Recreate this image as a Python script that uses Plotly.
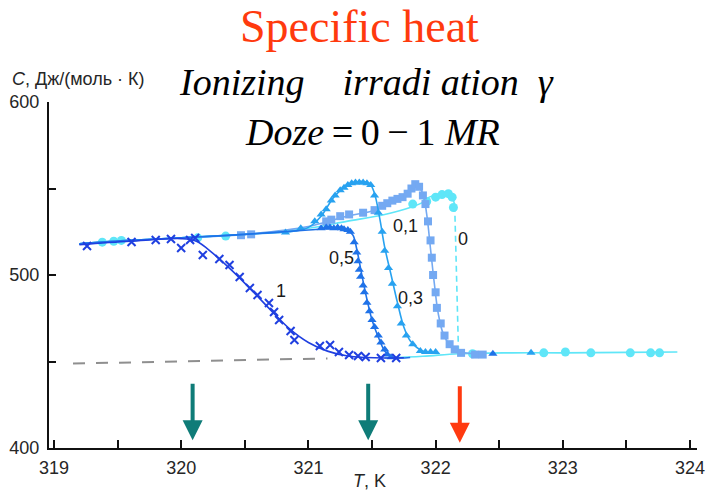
import plotly.graph_objects as go

# ---------------- data ----------------
# dose 1 MR  (x markers)
d1_T = [319.26, 319.61, 319.80, 319.92, 320.00, 320.07, 320.11, 320.17, 320.30, 320.38, 320.46,
        320.54, 320.60, 320.69, 320.73, 320.77, 320.86, 320.89, 321.09, 321.17, 321.24, 321.32,
        321.39, 321.45, 321.57, 321.69]
d1_C = [516.8, 519.1, 520.2, 520.8, 515.6, 520.2, 521.4, 511.6, 509.2, 505.8, 498.8,
        492.5, 488.4, 483.8, 478.6, 474.0, 467.6, 462.4, 459.0, 459.5, 455.5, 453.8,
        453.2, 452.6, 452.0, 452.0]
d1_fitT = [319.20, 319.60, 320.00, 320.12, 320.25, 320.40, 320.55, 320.70, 320.85, 321.00,
           321.15, 321.30, 321.45, 321.60, 321.75]
d1_fitC = [517.5, 519.5, 521.0, 519.5, 512.5, 502.5, 491.5, 480.0, 469.0, 461.0,
           456.0, 453.3, 452.3, 452.0, 452.2]

# dose 0.5 MR (dark triangles)
d05_T = [321.10, 321.14, 321.17, 321.20, 321.23, 321.26, 321.28, 321.31, 321.33, 321.36,
         321.38, 321.39, 321.40, 321.41, 321.43, 321.44, 321.46, 321.48, 321.50, 321.52,
         321.55, 321.57, 321.60, 321.62, 321.65, 322.45]
d05_C = [527.0, 527.5, 527.5, 527.0, 527.5, 527.0, 526.5, 526.0, 525.0, 519.0,
         513.0, 508.0, 503.0, 499.0, 494.0, 490.0, 484.0, 479.0, 474.0, 470.0,
         465.0, 461.0, 457.0, 454.0, 452.5, 454.5]
d05_fitT = [319.20, 319.60, 320.00, 320.50, 321.00, 321.20, 321.30, 321.35, 321.38, 321.42,
            321.46, 321.50, 321.55, 321.60, 321.65, 321.72, 321.80]
d05_fitC = [518.0, 520.0, 521.5, 523.5, 526.0, 527.0, 526.5, 523.0, 515.0, 500.0,
            486.0, 474.0, 464.0, 456.0, 452.5, 452.0, 452.3]

# dose 0.3 MR (light triangles)
d03_T = [320.82, 320.94, 321.05, 321.10, 321.14, 321.18, 321.21, 321.25, 321.28, 321.31,
         321.34, 321.37, 321.40, 321.43, 321.46, 321.49, 321.52, 321.55, 321.58, 321.60,
         321.63, 321.66, 321.70, 321.73, 321.77, 321.82, 321.88, 321.92, 321.96, 322.00, 322.75]
d03_C = [524.5, 527.0, 531.0, 535.0, 538.0, 543.0, 546.0, 549.0, 550.5, 552.0,
         553.0, 553.5, 553.5, 553.5, 553.0, 552.0, 546.0, 536.0, 525.0, 514.0,
         504.0, 495.0, 482.0, 472.0, 465.0, 460.0, 456.0, 455.5, 455.5, 455.5, 455.0]
d03_fitT = [319.20, 319.60, 320.00, 320.50, 320.90, 321.00, 321.10, 321.20, 321.30, 321.40,
            321.48, 321.52, 321.56, 321.60, 321.65, 321.70, 321.75, 321.80, 321.90, 322.00]
d03_fitC = [518.0, 520.0, 521.5, 523.5, 525.5, 527.5, 534.0, 545.0, 551.5, 554.0,
            553.0, 547.0, 533.0, 516.0, 500.0, 484.0, 470.0, 462.0, 456.0, 455.0]

# dose 0.1 MR (squares)
d01_T = [320.47, 320.55, 321.14, 321.18, 321.25, 321.32, 321.43, 321.52, 321.58, 321.62,
         321.66, 321.70, 321.74, 321.78, 321.81, 321.84, 321.87, 321.90, 321.92, 321.94,
         321.96, 321.97, 321.98, 322.00, 322.01, 322.04, 322.07, 322.11, 322.15, 322.20,
         322.31, 322.37]
d01_C = [523.0, 523.5, 531.0, 532.0, 534.0, 535.0, 536.0, 537.5, 540.0, 541.5,
         543.0, 544.0, 545.0, 547.0, 550.0, 552.5, 551.0, 546.0, 541.0, 531.0,
         520.0, 510.0, 500.0, 490.0, 481.0, 472.0, 465.0, 460.0, 457.0, 455.0,
         454.0, 454.0]
d01_fitT = [319.20, 319.60, 320.00, 320.50, 321.00, 321.30, 321.50, 321.65, 321.75, 321.82,
            321.86, 321.90, 321.93, 321.96, 321.99, 322.02, 322.06, 322.12, 322.20, 322.35]
d01_fitC = [518.0, 520.0, 521.5, 523.5, 528.0, 534.0, 537.0, 542.0, 546.0, 550.5,
            551.0, 547.0, 535.0, 515.0, 495.0, 478.0, 466.0, 459.0, 455.5, 454.5]

# dose 0 (circles)
d0_T = [319.38, 319.47, 319.53, 320.13, 320.35, 321.82, 321.93, 322.00, 322.05, 322.10,
        322.13, 322.14, 322.29, 322.85, 323.02, 323.22, 323.53, 323.69, 323.76]
d0_C = [519.0, 519.5, 520.0, 521.5, 522.5, 541.0, 542.5, 545.0, 546.5, 547.0,
        545.0, 539.0, 454.5, 455.0, 455.5, 455.0, 455.0, 455.0, 455.0]
d0_fitT = [319.20, 319.60, 320.00, 320.50, 321.00, 321.30, 321.60, 321.80, 321.90, 321.95,
           322.05, 322.12, 322.15]
d0_fitC = [518.0, 520.0, 521.5, 523.5, 527.0, 531.0, 535.0, 539.0, 542.0, 545.0,
           546.5, 546.0, 540.0]
d0_dropT = [322.15, 322.18]
d0_dropC = [540.0, 455.0]
tail_T = [321.60, 321.90, 322.18, 322.60, 323.00, 323.50, 323.90]
tail_C = [452.0, 453.0, 454.5, 455.0, 455.0, 455.3, 455.5]

# extrapolated lattice background (gray dashed)
bg_T = [319.15, 321.15]
bg_C = [448.8, 451.8]

x_ticks = [319, 319.5, 320, 320.5, 321, 321.5, 322, 322.5, 323, 323.5, 324]
x_ticklabels = ["319", "", "320", "", "321", "", "322", "", "323", "", "324"]
y_ticks = [400, 450, 500, 550, 600]
y_ticklabels = ["400", "", "500", "", "600"]

series_labels = ["1", "0,5", "0,3", "0,1", "0"]
arrow_T = [320.09, 321.47, 322.19]

# ---------------- styling ----------------
C1, C05, C03, C01, C0 = "#1f3fe0", "#1f72e8", "#28a2f0", "#74a9f2", "#5fe6f8"
W, H = 709, 496
L, R, T, B = 49, 705, 102, 448


def pxx(x):
    return (x - L) / (R - L)


def pxy(y):
    return (B - y) / (B - T)


fig = go.Figure()

fig.add_trace(go.Scatter(x=bg_T, y=bg_C, mode="lines",
                         line=dict(color="#8f8f8f", width=2, dash="12px,11px")))

# dose 0
fig.add_trace(go.Scatter(x=d0_fitT, y=d0_fitC, mode="lines", line_shape="spline",
                         line=dict(color=C0, width=1.6)))
fig.add_trace(go.Scatter(x=d0_dropT, y=d0_dropC, mode="lines",
                         line=dict(color=C0, width=1.6, dash="6px,4px")))
fig.add_trace(go.Scatter(x=tail_T, y=tail_C, mode="lines", line_shape="spline",
                         line=dict(color=C0, width=1.6)))
fig.add_trace(go.Scatter(x=d0_T, y=d0_C, mode="markers",
                         marker=dict(symbol="circle", size=9, color=C0)))
# dose 0.1
fig.add_trace(go.Scatter(x=d01_fitT, y=d01_fitC, mode="lines", line_shape="spline",
                         line=dict(color=C01, width=1.6)))
fig.add_trace(go.Scatter(x=d01_T, y=d01_C, mode="markers",
                         marker=dict(symbol="square", size=8, color=C01)))
# dose 0.3
fig.add_trace(go.Scatter(x=d03_fitT, y=d03_fitC, mode="lines", line_shape="spline",
                         line=dict(color=C03, width=1.6)))
fig.add_trace(go.Scatter(x=d03_T, y=d03_C, mode="markers",
                         marker=dict(symbol="triangle-up", size=8, color=C03)))
# dose 0.5
fig.add_trace(go.Scatter(x=d05_fitT, y=d05_fitC, mode="lines", line_shape="spline",
                         line=dict(color=C05, width=1.6)))
fig.add_trace(go.Scatter(x=d05_T, y=d05_C, mode="markers",
                         marker=dict(symbol="triangle-up", size=8, color=C05)))
# dose 1
fig.add_trace(go.Scatter(x=d1_fitT, y=d1_fitC, mode="lines", line_shape="spline",
                         line=dict(color=C1, width=1.6)))
fig.add_trace(go.Scatter(x=d1_T, y=d1_C, mode="markers",
                         marker=dict(symbol="x-thin", size=8, color=C1,
                                     line=dict(color=C1, width=2))))

axis_font = dict(family="Liberation Sans, Arial, sans-serif", size=18, color="#262626")

fig.update_layout(
    width=W, height=H, autosize=False,
    margin=dict(l=L, r=W - R, t=T, b=H - B, pad=0),
    paper_bgcolor="white", plot_bgcolor="white",
    showlegend=False,
    xaxis=dict(range=[319 - 5 / 128.8, 319 - 5 / 128.8 + (R - L) / 128.8],
               tickvals=x_ticks, ticktext=x_ticklabels,
               ticks="inside", ticklen=8, tickwidth=1.5, tickcolor="#111",
               showline=True, linecolor="#111", linewidth=2,
               showgrid=False, zeroline=False, tickfont=axis_font,
               ticklabelstandoff=2, ticklabeloverflow="allow"),
    yaxis=dict(range=[400, 600], tickvals=y_ticks, ticktext=y_ticklabels,
               ticks="inside", ticklen=7, tickwidth=1.5, tickcolor="#111",
               showline=True, linecolor="#111", linewidth=2,
               showgrid=False, zeroline=False, tickfont=axis_font,
               ticklabelstandoff=4, ticklabeloverflow="allow"),
)

ann = []
serif = "Liberation Serif, Times New Roman, serif"
ann.append(dict(text="Specific heat", x=pxx(363), y=pxy(27), xref="paper", yref="paper",
                showarrow=False, xanchor="center", yanchor="middle",
                font=dict(family=serif, size=46, color="#ff3a0e")))
ann.append(dict(text="<i>Ionizing&nbsp;&nbsp;&nbsp;&nbsp;irradi ation&nbsp;&nbsp;γ</i>",
                x=pxx(370), y=pxy(82), xref="paper", yref="paper",
                showarrow=False, xanchor="center", yanchor="middle",
                font=dict(family=serif, size=38, color="#000")))
ann.append(dict(text="<i>Doze</i>&#8201;=&#8201;0&#8201;−&#8201;1&nbsp;<i>MR</i>",
                x=pxx(376), y=pxy(132), xref="paper", yref="paper",
                showarrow=False, xanchor="center", yanchor="middle",
                font=dict(family=serif, size=38, color="#000")))
ann.append(dict(text="<i>C</i>, Дж/(моль · К)", x=pxx(10), y=pxy(79),
                xref="paper", yref="paper", showarrow=False,
                xanchor="left", yanchor="middle",
                font=dict(family="Liberation Sans, Arial, sans-serif", size=18, color="#262626")))
ann.append(dict(text="<i>T</i>, K", x=pxx(373), y=pxy(481),
                xref="paper", yref="paper", showarrow=False,
                xanchor="center", yanchor="middle",
                font=dict(family="Liberation Sans, Arial, sans-serif", size=18, color="#262626")))

label_px = [(284, 291), (345, 258), (415, 298), (410, 226), (468, 239)]
for txt, (lx, ly) in zip(series_labels, label_px):
    ann.append(dict(text=txt, x=pxx(lx), y=pxy(ly), xref="paper", yref="paper",
                    showarrow=False, xanchor="center", yanchor="middle",
                    font=dict(family="Liberation Sans, Arial, sans-serif", size=18, color="#1a1a1a")))

arrow_colors = ["#0f7c78", "#0f7c78", "#ff3a10"]
arrow_tip_C = [404.5, 404.5, 403.0]
for xa, col, tipc in zip(arrow_T, arrow_colors, arrow_tip_C):
    ann.append(dict(x=xa, y=tipc, xref="x", yref="y", text="", showarrow=True,
                    ax=0, ay=-58, arrowhead=2, arrowsize=1.0, arrowwidth=4,
                    arrowcolor=col))

fig.update_layout(annotations=ann)
fig.write_html("out.html")
